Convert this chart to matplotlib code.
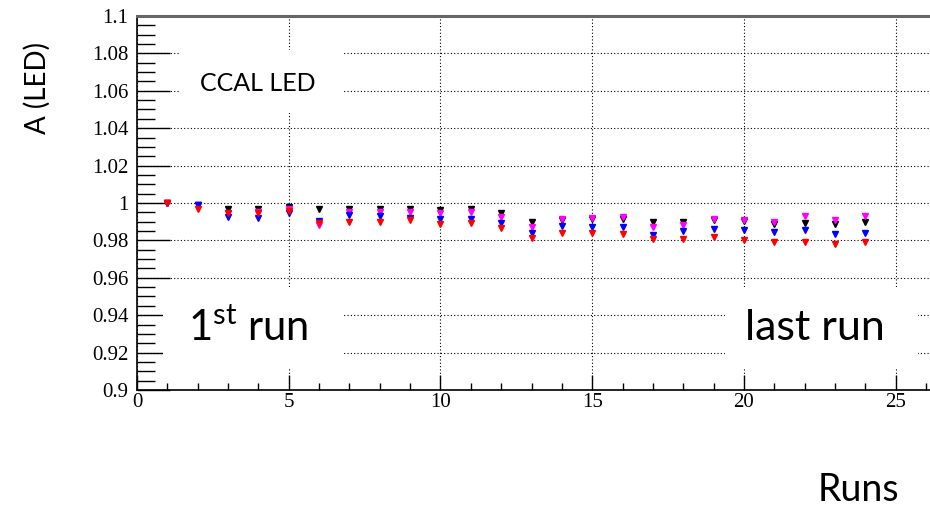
# plot.py
# CCAL LED amplitude vs run number, ROOT-like style

import matplotlib.pyplot as plt
from matplotlib import ticker
from matplotlib.patches import Rectangle

runs = list(range(1, 25))

# LED amplitude per run, normalised to the 1st run
led_black = [1.000, 0.999, 0.997, 0.997, 0.9977, 0.997, 0.9966, 0.997, 0.997, 0.996, 0.997, 0.9944,
             0.990, 0.991, 0.9915, 0.9915, 0.990, 0.990, 0.991, 0.9905, 0.989, 0.9895, 0.9888, 0.990]
led_magenta = [1.000, 0.999, 0.9945, 0.9953, 0.9966, 0.9885, 0.995, 0.9953, 0.9953, 0.9945, 0.995, 0.9925,
               0.987, 0.9917, 0.992, 0.9925, 0.987, 0.988, 0.9917, 0.991, 0.990, 0.993, 0.991, 0.993]
led_blue = [1.000, 0.999, 0.9925, 0.992, 0.9947, 0.9905, 0.9938, 0.993, 0.992, 0.9917, 0.9917, 0.9893,
            0.9837, 0.9875, 0.987, 0.987, 0.9828, 0.985, 0.986, 0.9855, 0.9847, 0.9855, 0.9834, 0.9842]
led_red = [1.000, 0.997, 0.9945, 0.9945, 0.9956, 0.9895, 0.990, 0.990, 0.991, 0.989, 0.9895, 0.9865,
           0.9815, 0.9837, 0.9837, 0.9834, 0.9806, 0.981, 0.982, 0.980, 0.979, 0.979, 0.978, 0.979]

series = [
    (led_black, "black"),
    (led_magenta, "magenta"),
    (led_blue, "blue"),
    (led_red, "red"),
]

plt.rcParams["font.family"] = "Liberation Serif"
plt.rcParams["mathtext.fontset"] = "custom"
plt.rcParams["mathtext.rm"] = "Lato"

W, H = 930, 509
fig = plt.figure(figsize=(W / 100, H / 100), dpi=100)
ax = fig.add_axes([137 / W, 1 - 390 / H, 1 - 137 / W, (390 - 16) / H])

ax.set_xlim(0, 26.13)
ax.set_ylim(0.9, 1.1)

ax.xaxis.set_major_locator(ticker.MultipleLocator(5))
ax.xaxis.set_minor_locator(ticker.MultipleLocator(1))
ax.yaxis.set_major_locator(ticker.MultipleLocator(0.02))
ax.yaxis.set_minor_locator(ticker.MultipleLocator(0.005))
ax.yaxis.set_major_formatter(ticker.FuncFormatter(lambda v, _: f"{v:.2f}".rstrip("0").rstrip(".")))

ax.tick_params(which="both", direction="in", top=False, right=False, colors="black", labelsize=15)
ax.tick_params(axis="y", which="major", length=24, width=1, pad=6)
ax.tick_params(axis="y", which="minor", length=13, width=1)
ax.tick_params(axis="x", which="major", length=11, width=1, pad=2)
ax.tick_params(axis="x", which="minor", length=5, width=1)

ax.set_axisbelow(True)
ax.grid(which="major", linestyle=(0, (1, 2)), color="black", linewidth=0.8)

ax.spines["right"].set_visible(False)
ax.spines["top"].set_color("#666666")
ax.spines["top"].set_linewidth(2.2)
ax.spines["left"].set_linewidth(1.2)
ax.spines["bottom"].set_linewidth(1.2)

for vals, color in series:
    ax.plot(runs, vals, "v", color=color, markersize=5, zorder=3, linestyle="none")

# white boxes behind the annotations (they hide the grid)
for x0, x1, y0, y1 in [(1.42, 6.79, 1.048, 1.082), (0.86, 6.79, 0.912, 0.9553),
                       (19.37, 25.73, 0.912, 0.9553)]:
    ax.add_patch(Rectangle((x0, y0), x1 - x0, y1 - y0, facecolor="white",
                           edgecolor="none", zorder=1))

ax.text(2.08, 1.064, "CCAL LED", fontsize=18, family="Lato", va="center", zorder=4)
ax.text(1.68, 0.933, r"1$^{\mathregular{st}}$ run", fontsize=30, family="Lato",
        va="center", zorder=4)
ax.text(20.03, 0.933, "last run", fontsize=31, family="Lato", va="center", zorder=4)

fig.text(37 / W, 1 - 88 / H, "A (LED)", fontsize=20, family="Lato", rotation=90,
         ha="center", va="center")
fig.text(858 / W, 1 - 490 / H, "Runs", fontsize=27, family="Lato", ha="center", va="center")

fig.savefig("out.png", dpi=100)
